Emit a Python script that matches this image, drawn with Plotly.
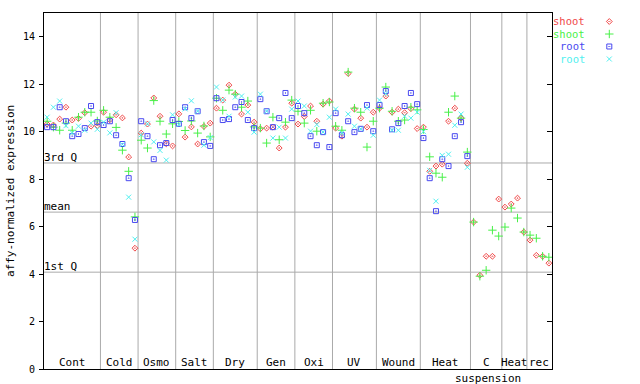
import plotly.graph_objects as go

# ---------------- data ----------------
groups = ["Cont", "Cold", "Osmo", "Salt", "Dry", "Gen", "Oxi", "UV", "Wound", "Heat", "C", "Heat", "rec"]
group_sizes = [9, 6, 6, 6, 7, 6, 6, 7, 7, 8, 5, 4, 4]

shoot_red = [
    10.32, 10.28, 10.53, 11.03, 10.49, 10.56, 10.80, 10.23, 10.26,
    10.82, 10.50, 10.71, 10.58, 8.93, 5.09,
    9.94, 10.32, 11.42, 10.65, 9.49, 9.40,
    10.75, 9.77, 10.20, 9.48, 10.22, 10.36,
    10.99, 11.33, 11.96, 11.58, 10.74, 11.12, 10.40,
    10.12, 10.15, 10.19, 9.31, 10.19, 11.20,
    10.32, 10.64, 11.08, 10.44, 11.16, 11.29,
    10.15, 9.81, 12.45, 10.95, 10.57, 10.19, 10.82,
    10.99, 11.50, 10.82, 10.95, 10.80, 10.97, 10.13,
    10.19, 8.33, 8.55, 8.63, 10.44, 10.99, 10.57, 8.67,
    6.19, 3.95, 4.75, 4.75, 7.16,
    6.82, 6.95, 7.20, 5.77,
    5.43, 4.79, 4.75, 4.46,
]
shoot_green = [
    10.44, 10.19, 10.06, 10.36, 10.06, 10.61, 10.82, 10.82, 10.45,
    10.90, 10.61, 10.18, 9.22, 8.33, 6.41,
    9.64, 9.31, 11.31, 10.44, 9.90, 10.33,
    10.43, 10.05, 10.45, 9.94, 10.24, 9.78,
    11.41, 10.90, 11.75, 11.58, 11.03, 11.29, 10.20,
    10.15, 9.52, 10.61, 9.66, 10.40, 11.33,
    10.86, 10.36, 10.90, 10.02, 11.20, 11.25,
    10.23, 10.06, 12.51, 10.99, 10.82, 9.35, 10.44,
    10.99, 11.88, 10.86, 10.44, 10.49, 11.03, 10.92,
    10.09, 8.94, 8.25, 8.08, 10.82, 11.50, 10.57, 9.14,
    6.19, 3.91, 4.16, 5.85, 5.60,
    5.98, 6.78, 6.36, 5.77,
    5.64, 5.51, 4.75, 4.71,
]
root_blue = [
    10.19, 10.19, 11.03, 10.44, 9.81, 9.90, 10.15, 11.08, 10.40,
    10.28, 10.44, 9.85, 9.48, 8.04, 6.28,
    10.44, 9.81, 8.84, 9.43, 9.52, 10.49,
    10.33, 11.03, 10.57, 10.86, 9.56, 9.40,
    11.41, 10.49, 10.53, 11.03, 11.25, 10.49, 10.15,
    11.37, 10.86, 10.19, 10.57, 11.63, 10.57,
    11.08, 10.78, 9.81, 9.43, 9.98, 9.35,
    10.78, 9.85, 10.44, 9.98, 10.12, 11.12, 10.02,
    11.12, 11.71, 10.10, 10.36, 11.08, 11.63, 11.16,
    9.73, 8.04, 6.65, 8.84, 8.55, 9.81, 10.40, 8.97,
    None, None, None, None, None,
    None, None, None, None,
    None, None, None, None,
]
root_cyan = [
    10.61, 11.03, 11.29, 10.25, 9.95, 10.23, 10.06, 10.36, 10.10,
    10.40, 9.95, 10.80, 9.46, 7.24, 5.47,
    9.87, 10.33, 9.57, 9.21, 8.80, 10.71,
    10.30, 10.96, 11.30, 10.86, 9.43, 9.75,
    11.88, 11.33, 10.65, 11.46, 11.50, 10.82, 9.98,
    11.58, 10.86, 9.73, 10.19, 9.73, 10.95,
    11.29, 11.08, 10.02, 10.30, 9.98, 10.61,
    10.95, 9.95, 10.74, 10.23, 10.12, 10.99, 9.85,
    11.33, 11.60, 10.06, 10.06, 10.65, 10.57, 10.82,
    10.00, 8.37, 7.07, 9.00, 9.05, 10.27, 10.74, 8.50,
    None, None, None, None, None,
    None, None, None, None,
    None, None, None, None,
]

third_q = 8.68
mean_val = 6.61
first_q = 4.08

y_ticks = [0, 2, 4, 6, 8, 10, 12, 14]
series_names = ["shoot", "shoot", "root", "root"]

# ---------------- styling ----------------
FONT = "DejaVu Sans Mono"
colors = ["#f04848", "#48f048", "#4848f0", "#50f0f0"]
symbols = ["diamond-open-dot", "cross-thin", "square-open-dot", "x-thin"]
sizes = [4.5, 6, 5, 5]

W, H = 640, 384
L, R, T, B = 44, 0, 13, 15
plot_px_w = W - L - R
xdom_end = 508 / plot_px_w

n = sum(group_sizes)
xs = list(range(n))

fig = go.Figure()
for vals, col, sym, sz, nm in zip([shoot_red, shoot_green, root_blue, root_cyan],
                                  colors, symbols, sizes, series_names):
    fig.add_trace(go.Scatter(
        x=xs, y=vals, mode="markers", name=nm, showlegend=False,
        marker=dict(symbol=sym, size=sz, color=col, line=dict(color=col, width=1)),
        cliponaxis=False,
    ))

# legend markers on an auxiliary pixel-like axis
leg_y_px = [21.5, 34.0, 46.5, 59.0]
for i in range(4):
    fig.add_trace(go.Scatter(
        x=[609.3], y=[leg_y_px[i]], xaxis="x2", yaxis="y2", mode="markers",
        showlegend=False, hoverinfo="skip",
        marker=dict(symbol=symbols[i], size=sizes[i], color=colors[i],
                    line=dict(color=colors[i], width=1)),
    ))

shapes = []
cum = 0
for s in group_sizes[:-1]:
    cum += s
    shapes.append(dict(type="line", xref="x", yref="y domain", x0=cum - 0.5, x1=cum - 0.5,
                       y0=0, y1=1, line=dict(color="#aaaaaa", width=1), layer="below"))
for v in [third_q, mean_val, first_q]:
    shapes.append(dict(type="line", xref="x domain", yref="y", x0=0, x1=1, y0=v, y1=v,
                       line=dict(color="#aaaaaa", width=1), layer="below"))

annotations = []
for txt, v in [("3rd Q", third_q), ("mean", mean_val), ("1st Q", first_q)]:
    annotations.append(dict(text=txt, xref="x domain", x=0, xanchor="left", yref="y", y=v,
                            yanchor="bottom", showarrow=False, borderpad=0, xshift=-1, yshift=-2,
                            font=dict(family=FONT, size=11, color="black")))

cum = 0
for g, s in zip(groups, group_sizes):
    center = cum + (s - 1) / 2
    annotations.append(dict(text=g, xref="x", x=center, yref="y domain", y=0, yanchor="bottom",
                            showarrow=False, borderpad=0, yshift=-1,
                            font=dict(family=FONT, size=11, color="black")))
    if g == "C":
        annotations.append(dict(text="suspension", xref="x", x=center, yref="y domain", y=0,
                                yanchor="top", showarrow=False, borderpad=0, yshift=-2, xshift=2,
                                font=dict(family=FONT, size=11, color="black")))
    cum += s

annotations.append(dict(text="affy-normalized expression", textangle=-90, xref="paper",
                        x=(10 - L) / plot_px_w, xanchor="center", yref="paper",
                        y=(H - B - 191) / (H - T - B), yanchor="middle", showarrow=False,
                        font=dict(family=FONT, size=11, color="black")))

for i in range(4):
    annotations.append(dict(text=series_names[i], xref="paper", x=(586 - L) / plot_px_w,
                            xanchor="right", yref="paper", y=(H - B - leg_y_px[i]) / (H - T - B),
                            yanchor="middle", showarrow=False, borderpad=0,
                            font=dict(family=FONT, size=10.5, color=colors[i])))

fig.update_layout(
    width=W, height=H, margin=dict(l=L, r=R, t=T, b=B, pad=0),
    plot_bgcolor="white", paper_bgcolor="white",
    showlegend=False,
    xaxis=dict(domain=[0, xdom_end], range=[-0.5, n - 0.5], showticklabels=False, ticks="",
               showgrid=False, zeroline=False, showline=True, linecolor="black", linewidth=1,
               mirror=True, fixedrange=True),
    yaxis=dict(range=[0, 15], tickvals=y_ticks, ticks="outside", ticklen=4, tickcolor="black",
               showgrid=False, zeroline=False, showline=True, linecolor="black", linewidth=1,
               mirror=True, tickfont=dict(family=FONT, size=10, color="black"), ticklabelstandoff=2),
    yaxis3=dict(range=[0, 15], tickvals=y_ticks, ticks="inside", ticklen=5, tickcolor="black",
                overlaying="y", side="right", anchor="x", showticklabels=False, showgrid=False,
                zeroline=False, showline=False),
    xaxis2=dict(domain=[(600 - L) / plot_px_w, 1], range=[600, 640], visible=False, anchor="y2"),
    yaxis2=dict(domain=[0, 1], range=[H - B, T], visible=False, anchor="x2"),
    shapes=shapes, annotations=annotations,
)
fig.add_trace(go.Scatter(x=[0], y=[0], yaxis="y3", mode="markers", marker=dict(opacity=0),
                         showlegend=False, hoverinfo="skip"))

fig.write_html("out.html", config={"displayModeBar": False})
with open("out.html", "r", encoding="utf-8") as f:
    html = f.read()
html = html.replace("<head>", "<head><style>body{margin:0;padding:0;overflow:hidden;}</style>", 1)
with open("out.html", "w", encoding="utf-8") as f:
    f.write(html)
